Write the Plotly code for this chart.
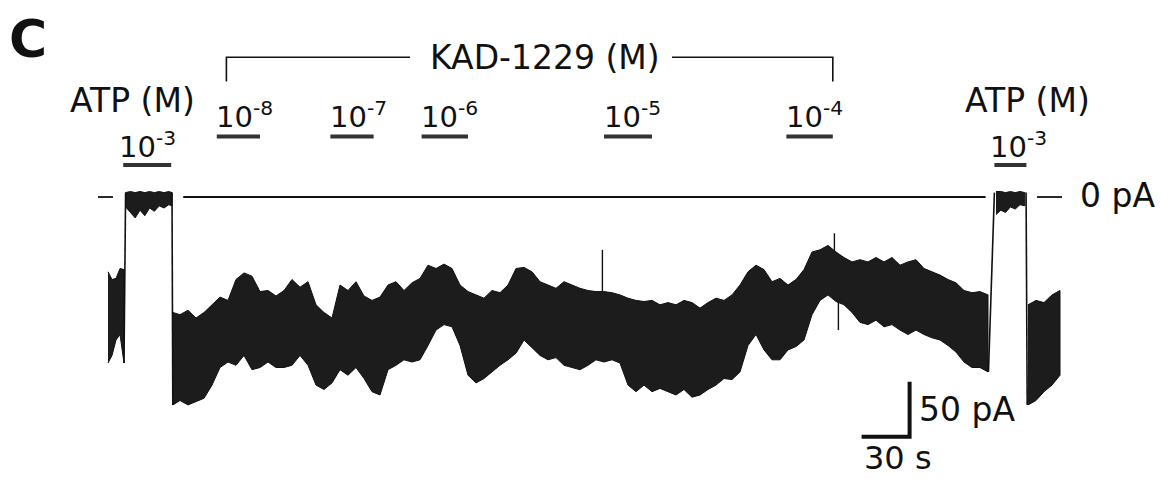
import plotly.graph_objects as go

# ---------------- data (time in s, current in pA) ----------------
# trace segment before first ATP application
pre_t = [0, 2.5, 5, 7.5, 10]
pre_top = [-68, -75, -74, -65, -66]
pre_bot = [-151, -144, -130, -125, -151]

# first ATP (1e-3 M) response
atp1_t = [11, 14, 17, 20, 23, 26, 29, 32, 35, 38, 40]
atp1_top = [4, 5, 4, 5, 4, 5, 4, 5, 4, 5, 4]
atp1_bot = [-9, -14, -19, -12, -17, -10, -13, -8, -10, -7, -8]

# main trace during KAD-1229 applications (noise envelope)
main_t = [40.6, 45, 50, 55, 60, 65, 70, 75, 80, 85, 90, 95, 100, 105, 110, 115, 120,
          125, 130, 135, 140, 145, 150, 155, 160, 165, 170, 175, 180, 185, 190, 195,
          200, 205, 210, 215, 220, 225, 230, 235, 240, 245, 250, 255, 260, 265, 270,
          275, 280, 285, 290, 295, 300, 305, 310, 315, 320, 325, 330, 335, 340, 345,
          350, 355, 360, 365, 370, 375, 380, 385, 390, 395, 400, 405, 410, 415, 420,
          425, 430, 435, 440, 445, 450, 455, 460, 465, 470, 475, 480, 485, 490, 495,
          500, 505, 510, 515, 520, 525, 530, 535, 540, 545, 550]
main_top = [-105, -107, -103, -110, -105, -98, -91, -94, -75, -69,
            -72, -86, -85, -90, -85, -75, -82, -77, -98, -105,
            -110, -80, -85, -77, -90, -94, -91, -80, -77, -85,
            -78, -74, -62, -65, -61, -65, -80, -86, -89, -92,
            -85, -87, -80, -65, -64, -68, -77, -80, -83, -77,
            -80, -83, -85, -86, -86, -87, -89, -92, -94, -95,
            -94, -98, -96, -98, -94, -96, -101, -96, -92, -94,
            -89, -80, -68, -62, -66, -77, -74, -80, -75, -66,
            -50, -48, -44, -50, -55, -59, -57, -59, -55, -59,
            -55, -62, -59, -57, -65, -68, -71, -75, -78, -85,
            -87, -86, -89]
main_bot = [-189, -185, -189, -186, -183, -171, -155, -150, -153, -144,
            -157, -155, -150, -155, -155, -153, -144, -153, -171, -175,
            -169, -157, -162, -155, -165, -177, -180, -157, -153, -148,
            -150, -148, -135, -121, -116, -118, -135, -162, -169, -165,
            -159, -153, -148, -142, -130, -137, -144, -148, -146, -153,
            -155, -157, -153, -148, -150, -148, -151, -171, -177, -171,
            -177, -174, -177, -180, -175, -182, -180, -175, -171, -165,
            -166, -159, -135, -125, -139, -148, -148, -139, -136, -130,
            -107, -94, -89, -95, -98, -105, -114, -116, -112, -118,
            -116, -121, -125, -121, -125, -128, -130, -135, -141, -150,
            -155, -155, -159]

# isolated spikes (time, from pA, to pA)
spike_t = [309, 454, 456.5]
spike_from = [-86, -50, -95]
spike_to = [-48, -33, -121]

# second ATP (1e-3 M) response
atp2_t = [555, 558, 561, 564, 567, 570, 573]
atp2_top = [5, 5, 4, 5, 4, 5, 4]
atp2_bot = [-16, -12, -14, -9, -11, -7, -8]

# trace after second ATP application
post_t = [575, 580, 585, 590, 595]
post_top = [-98, -94, -96, -89, -85]
post_bot = [-189, -185, -177, -171, -162]

# fast transitions (rise / fall of ATP responses)
edge_t = [[10, 11], [40, 40.5], [550.3, 554], [573.8, 574.5]]
edge_pA = [[-151, 4], [4, -189], [-159, 4], [4, -189]]

# zero-current reference line pieces
zero_t = [[-6.25, 3.1], [47, 548.5], [580.6, 596.25]]

# drug applications
kad_labels = ["10<sup>-8</sup>", "10<sup>-7</sup>", "10<sup>-6</sup>", "10<sup>-5</sup>", "10<sup>-4</sup>"]
kad_on = [68, 139, 196, 310, 424]
kad_off = [95, 166, 225, 340, 453]
atp_labels = ["10<sup>-3</sup>", "10<sup>-3</sup>"]
atp_on = [9.5, 554]
atp_off = [39.5, 574]

# scale bar: 30 s x 50 pA
sb_t = [471, 501, 501]
sb_pA = [-218, -218, -168]

# ---------------- figure ----------------
INK = "#111111"
FONT = "DejaVu Sans, Liberation Sans, Arial, sans-serif"
fig = go.Figure()


def band(t, top, bot):
    fig.add_trace(go.Scatter(
        x=list(t) + list(t)[::-1], y=list(top) + list(bot)[::-1],
        mode="lines", fill="toself", fillcolor="#1c1c1c",
        line=dict(color=INK, width=1), hoverinfo="skip", showlegend=False))


band(pre_t, pre_top, pre_bot)
band(atp1_t, atp1_top, atp1_bot)
band(main_t, main_top, main_bot)
band(atp2_t, atp2_top, atp2_bot)
band(post_t, post_top, post_bot)

for et, ep in zip(edge_t, edge_pA):
    fig.add_trace(go.Scatter(x=et, y=ep, mode="lines", line=dict(color=INK, width=1.6),
                             hoverinfo="skip", showlegend=False))
for st, sf, so in zip(spike_t, spike_from, spike_to):
    fig.add_trace(go.Scatter(x=[st, st], y=[sf, so], mode="lines", line=dict(color=INK, width=1.4),
                             hoverinfo="skip", showlegend=False))
for zt in zero_t:
    fig.add_trace(go.Scatter(x=zt, y=[0, 0], mode="lines", line=dict(color=INK, width=1.8),
                             hoverinfo="skip", showlegend=False))

# application bars
BAR_KAD = 55
BAR_ATP = 29
for a, b in zip(kad_on, kad_off):
    fig.add_trace(go.Scatter(x=[a, b], y=[BAR_KAD, BAR_KAD], mode="lines",
                             line=dict(color="#333333", width=4), hoverinfo="skip", showlegend=False))
for a, b in zip(atp_on, atp_off):
    fig.add_trace(go.Scatter(x=[a, b], y=[BAR_ATP, BAR_ATP], mode="lines",
                             line=dict(color="#333333", width=4), hoverinfo="skip", showlegend=False))

# KAD bracket
BR_TOP = 127
BR_LOW = 105
fig.add_trace(go.Scatter(x=[kad_on[0] + 6, kad_on[0] + 6, 188.75], y=[BR_LOW, BR_TOP, BR_TOP],
                         mode="lines", line=dict(color=INK, width=1.6), hoverinfo="skip", showlegend=False))
fig.add_trace(go.Scatter(x=[352.5, kad_off[-1], kad_off[-1]], y=[BR_TOP, BR_TOP, BR_LOW],
                         mode="lines", line=dict(color=INK, width=1.6), hoverinfo="skip", showlegend=False))

# scale bar
fig.add_trace(go.Scatter(x=sb_t, y=sb_pA, mode="lines", line=dict(color=INK, width=4),
                         hoverinfo="skip", showlegend=False))

ann = []


def txt(x, y, s, size, xanchor="left", yanchor="middle", bold=False):
    ann.append(dict(x=x, y=y, xref="x", yref="y", text=("<b>%s</b>" % s) if bold else s,
                    showarrow=False, xanchor=xanchor, yanchor=yanchor,
                    font=dict(family=FONT, size=size, color=INK)))


# panel letter (paper coordinates, anchored to the top edge so it is not clipped)
ann.append(dict(x=0, y=1, xref="paper", yref="paper", text="<b>C</b>", showarrow=False,
                xanchor="left", yanchor="top", borderpad=0,
                font=dict(family=FONT, size=52, color=INK)))
txt(15, 88, "ATP (M)", 33, xanchor="center")
txt(574.4, 88, "ATP (M)", 33, xanchor="center")
txt(273, 127, "KAD-1229 (M)", 33, xanchor="center")
for lab, a in zip(kad_labels, kad_on):
    txt(a - 1.5, 75, lab, 29)
for lab, a in zip(atp_labels, atp_on):
    txt(a - 4, 47, lab, 29)
txt(606.25, 1.5, "0 pA", 33)
txt(505.5, -193.5, "50 pA", 33)
txt(471, -237.5, "30 s", 32)

# page body has an 8 px margin: figure is 1161x471 and axis ranges start 8 px in
fig.update_layout(
    width=1161, height=471, margin=dict(l=0, r=0, t=0, b=0),
    paper_bgcolor="white", plot_bgcolor="white",
    xaxis=dict(range=[-62.5, 663.125], visible=False, fixedrange=True),
    yaxis=dict(range=[-256.36, 171.82], visible=False, fixedrange=True),
    annotations=ann, showlegend=False,
)
fig.write_html("out.html")
